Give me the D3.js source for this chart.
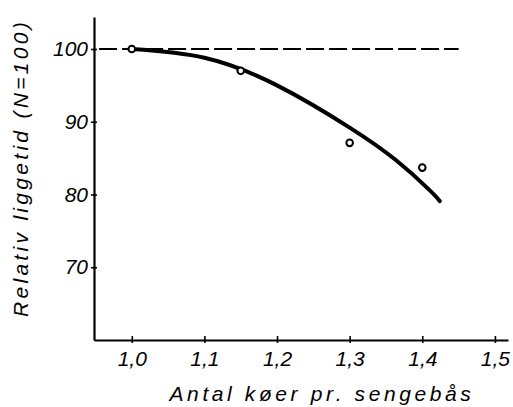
<!DOCTYPE html>
<html>
<head>
<meta charset="utf-8">
<style>
body { margin: 0; background: #fff; }
text { fill: #000; font-family: "Liberation Sans", Arial, sans-serif; font-style: italic; }
.axis path, .axis line { stroke: #000; }
</style>
</head>
<body>
<script src="https://cdn.jsdelivr.net/npm/d3@7"></script>
<script>
// observed points
var obsX = [1.0, 1.15, 1.3, 1.4];
var obsY = [100, 97.0, 87.1, 83.7];
// fitted curve
var curveX = [1.0, 1.1, 1.2, 1.3, 1.364, 1.41, 1.424];
var curveY = [100, 98.8, 95.0, 89.2, 84.7, 80.6, 79.1];
// reference line at 100
var refX = [0.955, 1.45];
var refY = [100, 100];
var xTicks = [1.0, 1.1, 1.2, 1.3, 1.4, 1.5];
var yTicks = [70, 80, 90, 100];

var width = 513, height = 407;

var svg = d3.select("body").append("svg")
    .attr("width", width)
    .attr("height", height);

var x = d3.scaleLinear().domain([0.948, 1.518]).range([94, 508]);
var y = d3.scaleLinear().domain([60, 104.4]).range([340, 17]);

var locale = d3.formatLocale({decimal: ",", thousands: ".", grouping: [3], currency: ["", ""]});
var fmt = locale.format(".1f");

// axes
var xAxis = svg.append("g")
    .attr("class", "axis")
    .attr("transform", "translate(0,340)")
    .call(d3.axisBottom(x).tickValues(xTicks).tickFormat(fmt).tickSizeInner(-4).tickSizeOuter(0).tickPadding(11));
xAxis.select(".domain").attr("stroke-width", 2.2);
xAxis.selectAll(".tick line").attr("stroke-width", 1.6).attr("y1", 3);
xAxis.selectAll(".tick text").attr("font-size", 21).attr("font-family", null);

var yAxis = svg.append("g")
    .attr("class", "axis")
    .attr("transform", "translate(94,0)")
    .call(d3.axisLeft(y).tickValues(yTicks).tickSizeInner(3).tickSizeOuter(0).tickPadding(3));
yAxis.select(".domain").attr("stroke-width", 2.2);
yAxis.selectAll(".tick line").attr("stroke-width", 1.6).attr("x1", 3).attr("x2", -3);
yAxis.selectAll(".tick text").attr("font-size", 21).attr("font-family", null);

// dashed reference line
svg.append("path")
    .datum(refX.map(function(d, i) { return [d, refY[i]]; }))
    .attr("fill", "none")
    .attr("stroke", "#000")
    .attr("stroke-width", 2)
    .attr("stroke-dasharray", "18,5")
    .attr("d", d3.line().x(function(d) { return x(d[0]); }).y(function(d) { return y(d[1]); }));

// curve
svg.append("path")
    .datum(curveX.map(function(d, i) { return [d, curveY[i]]; }))
    .attr("fill", "none")
    .attr("stroke", "#000")
    .attr("stroke-width", 4)
    .attr("stroke-linecap", "round")
    .attr("d", d3.line().curve(d3.curveNatural).x(function(d) { return x(d[0]); }).y(function(d) { return y(d[1]); }));

// points
svg.selectAll("circle.pt")
    .data(obsX.map(function(d, i) { return [d, obsY[i]]; }))
    .enter().append("circle")
    .attr("class", "pt")
    .attr("cx", function(d) { return x(d[0]); })
    .attr("cy", function(d) { return y(d[1]); })
    .attr("r", 3.3)
    .attr("fill", "#fff")
    .attr("stroke", "#000")
    .attr("stroke-width", 2);

// axis titles
svg.append("text")
    .attr("x", 322)
    .attr("y", 401)
    .attr("text-anchor", "middle")
    .attr("font-size", 21)
    .attr("letter-spacing", 3.6)
    .text("Antal køer pr. sengebås");

svg.append("text")
    .attr("transform", "translate(28,168) rotate(-90)")
    .attr("text-anchor", "middle")
    .attr("font-size", 21)
    .attr("letter-spacing", 3.3)
    .text("Relativ liggetid (N=100)");
</script>
</body>
</html>
